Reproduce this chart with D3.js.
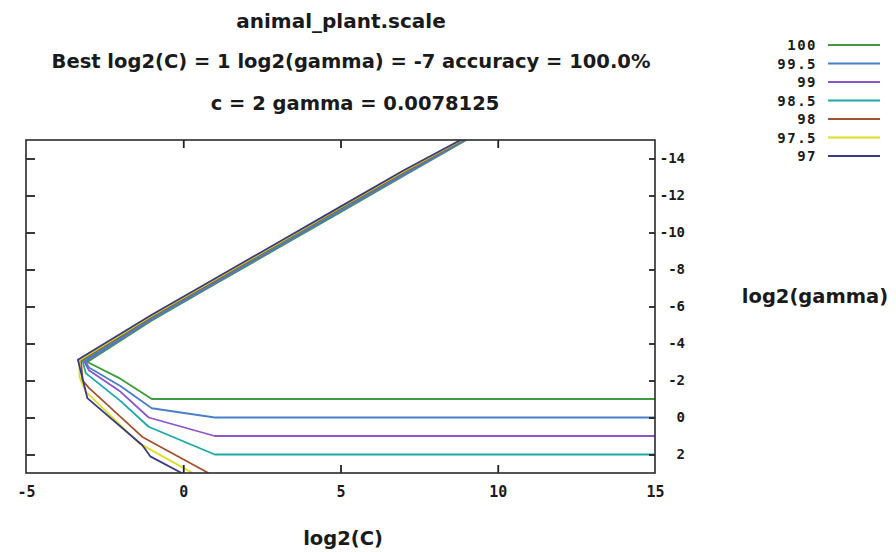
<!DOCTYPE html>
<meta charset="utf-8">
<head>
    <title>animal_plant.scale</title>
    <script src="https://cdn.jsdelivr.net/npm/d3@7/dist/d3.min.js"></script>
</head>
<style>
    body{ margin:0; background:#fff; }
    .title{
      font-family: "DejaVu Sans", Verdana, sans-serif;
      font-weight: bold;
      fill:#1a1a1a;
    }
    .legend text{
      font-family: "DejaVu Sans Mono", monospace;
      font-weight: bold;
      font-size:14px;
      letter-spacing:1.5px;
      fill:#1a1a1a;
    }
</style>
<svg width="896" height="552"></svg>

<script>
    // contour levels (accuracy %) and their colours, in legend order
    var levels = ['100','99.5','99','98.5','98','97.5','97'];
    var colors = ['#3c9c3c','#4a7fc8','#8a55c8','#1aa8a8','#a0522d','#e0dc20','#3a3a80'];

    // contour lines, [log2(C), log2(gamma)]
    var c100  = [[9.00,-15],[7,-13.05],[5,-11.10],[3,-9.15],[1,-7.20],[-1,-5.25],[-3.05,-3.00],[-2,-2.10],[-1,-1],[15,-1]];
    var c995  = [[8.97,-15],[7,-13.10],[5,-11.15],[3,-9.20],[1,-7.25],[-1,-5.30],[-3.10,-3.02],[-3.0,-2.70],[-2,-1.70],[-1,-0.50],[1,0],[15,0]];
    var c99   = [[8.94,-15],[7,-13.15],[5,-11.20],[3,-9.25],[1,-7.30],[-1,-5.35],[-3.15,-3.04],[-3.0,-2.55],[-2,-1.40],[-1.1,0],[1,1],[15,1]];
    var c985  = [[8.91,-15],[7,-13.20],[5,-11.25],[3,-9.30],[1,-7.35],[-1,-5.40],[-3.20,-3.06],[-3.1,-2.40],[-2,-0.90],[-1.1,0.50],[1,2],[15,2]];
    var c98   = [[8.88,-15],[7,-13.25],[5,-11.30],[3,-9.35],[1,-7.40],[-1,-5.45],[-3.25,-3.08],[-3.2,-2.00],[-3.0,-1.60],[-1.3,1.05],[0.8,3]];
    var c975  = [[8.85,-15],[7,-13.30],[5,-11.35],[3,-9.40],[1,-7.45],[-1,-5.50],[-3.30,-3.10],[-3.3,-2.20],[-3.1,-1.40],[-1.4,1.40],[0.3,3]];
    var c97   = [[8.82,-15],[7,-13.35],[5,-11.40],[3,-9.45],[1,-7.50],[-1,-5.55],[-3.35,-3.12],[-3.05,-1.05],[-1.3,1.50],[-1.05,2.10],[-0.05,3]];
    var contours = [c100, c995, c99, c985, c98, c975, c97];

    var xTicks = [-5, 0, 5, 10, 15];
    var yTicks = [-14, -12, -10, -8, -6, -4, -2, 0, 2];

    var titles = ['animal_plant.scale',
                  'Best log2(C) = 1 log2(gamma) = -7 accuracy = 100.0%',
                  'c = 2 gamma = 0.0078125'];

    // plot box (window.top is read-only, so no bare "top")
    var plotL = 26, plotR = 655, plotT = 140, plotB = 473;

    var svg = d3.select('svg');

    var x = d3.scaleLinear().domain([-5, 15]).range([plotL, plotR]),
        y = d3.scaleLinear().domain([-15, 3]).range([plotT, plotB]);

    // titles
    svg.selectAll('text.title').data(titles).enter().append('text')
        .attr('class','title')
        .attr('x', function(d,i){ return [341, 351, 355][i]; })
        .attr('y', function(d,i){ return [28, 68, 110][i]; })
        .attr('text-anchor','middle')
        .style('font-size', function(d,i){ return i==0 ? '20px' : '19.5px'; })
        .text(function(d){ return d; });

    svg.append('text').attr('class','title')
        .attr('x', 815).attr('y', 303).attr('text-anchor','middle')
        .style('font-size','19.5px')
        .text('log2(gamma)');

    svg.append('text').attr('class','title')
        .attr('x', 343).attr('y', 545).attr('text-anchor','middle')
        .style('font-size','19.5px')
        .text('log2(C)');

    // contour lines, clipped to the plot
    svg.append('clipPath').attr('id','plot')
        .append('rect').attr('x',plotL).attr('y',plotT).attr('width',plotR-plotL).attr('height',plotB-plotT);

    var line = d3.line().x(function(d){ return x(d[0]); }).y(function(d){ return y(d[1]); });

    svg.append('g').attr('clip-path','url(#plot)')
        .selectAll('path').data(contours).enter().append('path')
        .attr('d', line)
        .style('fill','none')
        .style('stroke', function(d,i){ return colors[i]; })
        .style('stroke-width', 1.8)
        .style('stroke-linejoin','round');

    // axes: ticks point inwards, labels on bottom and right
    var bottomAxis = svg.append('g').attr('transform','translate(0,'+plotB+')')
        .call(d3.axisBottom(x).tickValues(xTicks).tickSizeInner(-8).tickSizeOuter(0).tickPadding(13).tickFormat(String));
    var topAxis = svg.append('g').attr('transform','translate(0,'+plotT+')')
        .call(d3.axisTop(x).tickValues([0,5,10]).tickSizeInner(-8).tickSizeOuter(0).tickFormat(''));
    var leftAxis = svg.append('g').attr('transform','translate('+plotL+',0)')
        .call(d3.axisLeft(y).tickValues(yTicks).tickSizeInner(-9).tickSizeOuter(0).tickFormat(''));
    var rightAxis = svg.append('g').attr('transform','translate('+plotR+',0)')
        .call(d3.axisRight(y).tickValues(yTicks).tickSizeInner(-6).tickSizeOuter(0).tickFormat(String));

    rightAxis.selectAll('text').attr('text-anchor','end').attr('x', 30);
    bottomAxis.selectAll('.tick').filter(function(d){ return d==-5 || d==15; }).select('line').remove();

    [bottomAxis, topAxis, leftAxis, rightAxis].forEach(function(a){
        a.select('.domain').remove();
        a.selectAll('line').style('stroke','#222').style('stroke-width',1.8);
        a.selectAll('text').style('font-family','"DejaVu Sans Mono", monospace')
            .style('font-weight','bold').style('font-size','14px').style('fill','#1a1a1a');
    });
    bottomAxis.selectAll('text').style('font-size','15px');

    // frame
    svg.append('rect')
        .attr('x',plotL).attr('y',plotT).attr('width',plotR-plotL).attr('height',plotB-plotT)
        .style('fill','none').style('stroke','#2a2a2a').style('stroke-width',1.6);

    // legend
    var legend = svg.append('g').attr('class','legend')
        .selectAll('g').data(levels).enter().append('g')
        .attr('transform', function(d,i){ return 'translate(0,'+(45 + i*18.5)+')'; });

    legend.append('text')
        .attr('x', 817).attr('y', 5).attr('text-anchor','end')
        .text(function(d){ return d; });

    legend.append('line')
        .attr('x1', 828).attr('x2', 880)
        .style('stroke', function(d,i){ return colors[i]; })
        .style('stroke-width', 1.8);
</script>
